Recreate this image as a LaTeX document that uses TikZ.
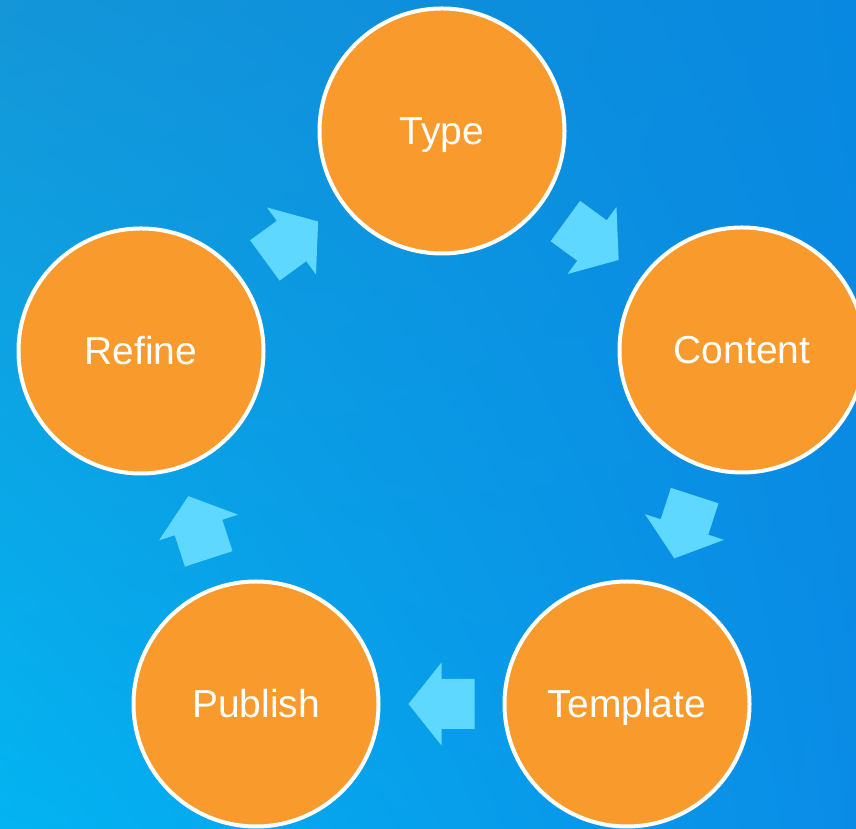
\documentclass[tikz,border=0pt]{standalone}
\usepackage{fontspec}
\setmainfont{Liberation Sans}
\usetikzlibrary{shadings}
\definecolor{bgUL}{HTML}{1496D8}
\definecolor{bgUR}{HTML}{0888E0}
\definecolor{bgLL}{HTML}{03B4F2}
\definecolor{bgLR}{HTML}{0A8CE6}
\definecolor{stepfill}{HTML}{F89A2C}
\definecolor{arrowfill}{HTML}{5FD8FF}
\begin{document}
\begin{tikzpicture}[x=1pt,y=1pt,
  stepcircle/.style={circle, draw=white, line width=4pt, fill=stepfill,
    minimum size=245pt, inner sep=0pt, text=white,
    text height=28pt, text depth=0pt,
    font=\fontsize{39}{42}\selectfont},
  blockarrow/.pic={\fill[arrowfill] (-33,-25) -- (0,-25) -- (0,-41.5) -- (33,0)
      -- (0,41.5) -- (0,25) -- (-33,25) -- cycle;}
]
\useasboundingbox (0,0) rectangle (856,829);
\shade[upper left=bgUL, upper right=bgUR, lower left=bgLL, lower right=bgLR]
  (0,0) rectangle (856,829);

\node[stepcircle] (type)     at (442,698) {Type};
\node[stepcircle] (content)  at (742,479) {Content};
\node[stepcircle] (template) at (627,125) {Template};
\node[stepcircle] (publish)  at (256,125) {Publish};
\node[stepcircle] (refine)   at (141,478) {Refine};

\path (type) -- (content) pic[pos=0.5, sloped, allow upside down] {blockarrow};
\path (content) -- (template) pic[pos=0.5, sloped, allow upside down] {blockarrow};
\path (template) -- (publish) pic[pos=0.5, sloped, allow upside down] {blockarrow};
\path (publish) -- (refine) pic[pos=0.5, sloped, allow upside down] {blockarrow};
\path (refine) -- (type) pic[pos=0.5, sloped, allow upside down] {blockarrow};
\end{tikzpicture}
\end{document}
